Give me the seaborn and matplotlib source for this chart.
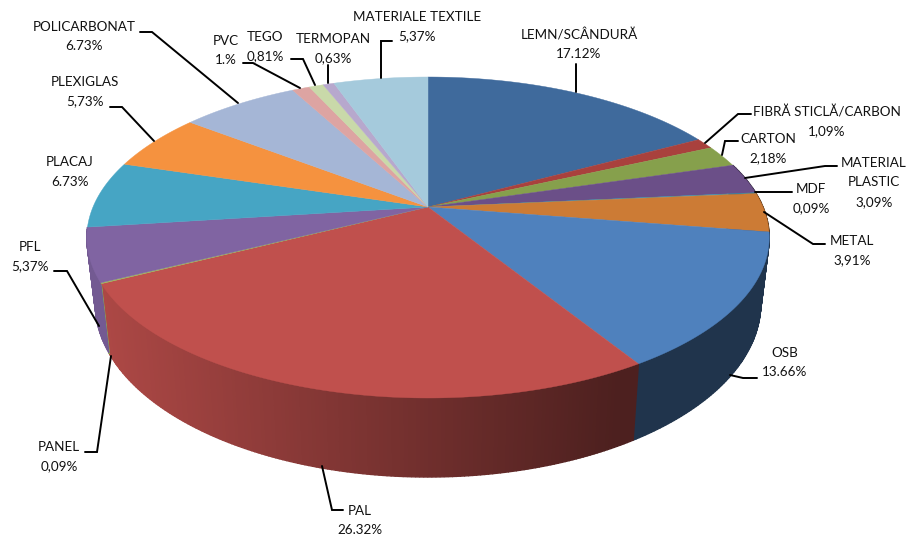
import numpy as np
import matplotlib
matplotlib.use("Agg")
import matplotlib.pyplot as plt
import seaborn as sns

# valori
materiale = ["LEMN/SCÂNDURĂ", "FIBRĂ STICLĂ/CARBON", "CARTON", "MATERIAL\nPLASTIC", "MDF", "METAL",
             "OSB", "PAL", "PANEL", "PFL", "PLACAJ", "PLEXIGLAS", "POLICARBONAT", "PVC", "TEGO",
             "TERMOPAN", "MATERIALE TEXTILE"]
procente = [17.12, 1.09, 2.18, 3.09, 0.09, 3.91, 13.66, 26.32, 0.09, 5.37, 6.73, 5.73, 6.73, 1.0, 0.81, 0.63, 5.37]
etichete_procent = ["17.12%", "1,09%", "2,18%", "3,09%", "0,09%", "3,91%", "13.66%", "26.32%", "0,09%",
                    "5,37%", "6.73%", "5,73%", "6.73%", "1.%", "0,81%", "0,63%", "5,37%"]
culori = ["#3F6A9C", "#A9413D", "#86A04C", "#6B4F88", "#3D93AB", "#CC7B35", "#4F81BD", "#C0504D", "#9BBB59",
          "#8064A2", "#46A5C4", "#F5923F", "#A5B6D6", "#DDA4A2", "#C9D9A9", "#B7A8CD", "#A5CADC"]

# pozitia textelor (centru, prima linie) si liniile de legatura, in pixeli
pozitii_text = [(579, 35), (827, 112), (768, 139), (874, 163), (811, 189), (852, 241), (785, 353), (360, 511),
                (59, 447), (30, 247), (70, 162), (85, 82), (84, 27), (226, 41), (265, 37), (333, 39), (417, 17)]
linii = [[(576, 92), (576, 64)],
         [(705, 143), (738, 114), (751, 114)],
         [(722, 155), (725, 141), (738, 141)],
         [(745, 178), (825, 166), (837, 166)],
         [(755, 192), (792, 192)],
         [(764, 212), (813, 244), (825, 244)],
         [(730, 375), (743, 378), (757, 378)],
         [(322, 466), (332, 510), (343, 510)],
         [(111, 356), (97, 452), (85, 452)],
         [(99, 326), (67, 271), (54, 271)],
         None,
         [(154, 141), (122, 107), (110, 107)],
         [(238, 103), (152, 32), (140, 32)],
         [(300, 88), (253, 63), (243, 63)],
         [(315, 85), (303, 59), (291, 59)],
         [(328, 83), (328, 65)],
         [(381, 78), (381, 41), (392, 41)]]

CX, CY = 428, 207
RX, RY = 335, 154.7
K = 0.19
DEPTH = 64
SHRINK = 0.975


def proiectie(theta):
    # cerc -> elipsa cu perspectiva, theta in sensul acelor de ceas de la ora 12
    u, v = np.sin(theta), np.cos(theta)
    den = 1 + K * v
    return CX + RX * u / den, CY - RY * v / den, den


def sus(theta):
    x, y, _ = proiectie(theta)
    return x, y


def jos(theta):
    x, y, den = proiectie(theta)
    return CX + (x - CX) * SHRINK, y + DEPTH / den


sns.set_theme(style="white")
plt.rcParams["font.family"] = ["Lato", "DejaVu Sans"]
paleta = sns.color_palette(culori)

fig, ax = plt.subplots(figsize=(9.12, 5.37), dpi=100)
ax.set_position([0, 0, 1, 1])
ax.set_xlim(0, 912)
ax.set_ylim(537, 0)
ax.axis("off")

limite = np.cumsum([0] + procente) / sum(procente) * 2 * np.pi

# peretele lateral, fasii subtiri cu umbrire dupa x
for i, culoare in enumerate(paleta):
    a0, a1 = limite[i], limite[i + 1]
    if a1 < np.pi / 2 - 0.1 or a0 > 1.45 * np.pi:
        continue
    pasi = max(2, int((a1 - a0) / 0.01))
    unghiuri = np.linspace(a0, a1, pasi)
    for t0, t1 in zip(unghiuri[:-1], unghiuri[1:]):
        xs0, ys0 = sus(t0)
        xs1, ys1 = sus(t1)
        xj0, yj0 = jos(t0)
        xj1, yj1 = jos(t1)
        f = np.clip(0.90 - (xs0 - 100) / 540 * 0.52, 0.40, 0.90)
        c = tuple(np.array(culoare) * f)
        ax.fill([xs0, xs1, xj1, xj0], [ys0, ys1, yj1, yj0], color=c, lw=1.0, zorder=1)

# fata de sus
for i, culoare in enumerate(paleta):
    unghiuri = np.linspace(limite[i], limite[i + 1], max(3, int(procente[i] * 4)))
    xs, ys = sus(unghiuri)
    ax.fill(np.r_[CX, xs], np.r_[CY, ys], color=culoare, lw=0.3, zorder=2)

# etichete si linii
for nume, pr, poz, linie in zip(materiale, etichete_procent, pozitii_text, linii):
    text = nume.split("\n") + [pr]
    for j, rand in enumerate(text):
        ax.text(poz[0], poz[1] + j * 19.5, rand, ha="center", va="center", fontsize=9.7, color="#111111", zorder=4)
    if linie is not None:
        lx, ly = zip(*linie)
        ax.plot(lx, ly, color="black", lw=1.4, zorder=3, solid_joinstyle="miter")

fig.savefig("out.png", dpi=100)
